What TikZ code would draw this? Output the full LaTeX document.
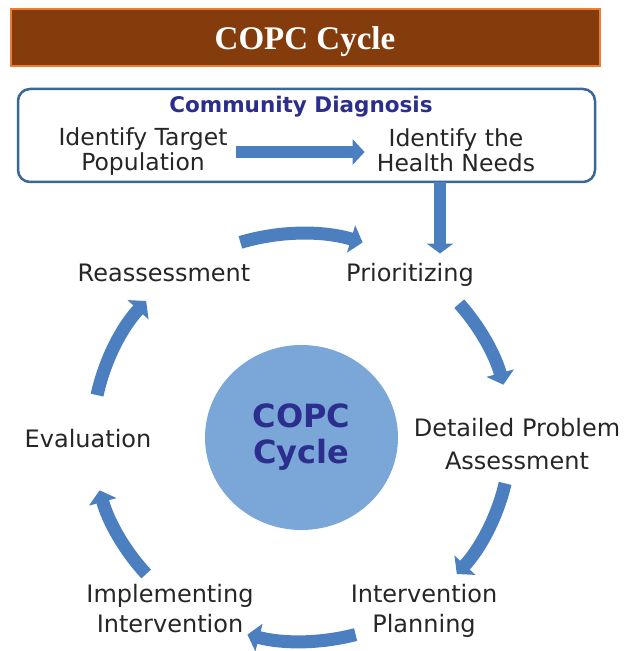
\documentclass[tikz,border=0pt]{standalone}
\usepackage{fontspec}
\setmainfont{DejaVu Sans}
\newfontfamily\headfont{Liberation Serif}
\usetikzlibrary{arrows.meta,shapes.geometric}

\definecolor{barbrown}{HTML}{843C0C}
\definecolor{barorange}{HTML}{ED7D31}
\definecolor{framebl}{HTML}{3A6796}
\definecolor{flowbl}{HTML}{4C7FBF}
\definecolor{hubbl}{HTML}{7BA7D8}
\definecolor{navy}{HTML}{2B2E8C}
\definecolor{ink}{HTML}{262626}

\begin{document}
\begin{tikzpicture}[x=1pt,y=1pt,
  % multi-line labels sit on the baseline of their last line
  lbl/.style={anchor=base, align=center, text=ink, inner sep=0pt,
              font=\fontsize{24}{30}\selectfont},
  flow/.style={draw=flowbl, line width=13pt,
               -{Triangle[width=28pt,length=12pt]}},
  straight/.style={draw=flowbl, line width=12pt,
                   -{Triangle[width=25pt,length=12pt]}}]

\useasboundingbox (0,0) rectangle (629,651);

% heading bar
\node[fill=barbrown, draw=barorange, line width=1.5pt, inner sep=0pt,
      minimum width=589pt, minimum height=57pt] (bar) at (305.5,613.5) {};
\node[anchor=base, text=white, inner sep=0pt,
      font=\headfont\bfseries\fontsize{33}{33}\selectfont] (title) at (305,601) {COPC Cycle};

% community diagnosis frame
\node[draw=framebl, line width=2.5pt, rounded corners=12pt, inner sep=0pt,
      minimum width=577pt, minimum height=93pt] (diag) at (306.5,515.5) {};
\node[anchor=base, text=navy, inner sep=0pt,
      font=\bfseries\fontsize{21.5}{21.5}\selectfont] (cdiag) at (301,538) {Community Diagnosis};
\node[lbl, font=\fontsize{23.5}{25}\selectfont] (target) at (143,480) {Identify Target\\Population};
\node[lbl, font=\fontsize{23.5}{25}\selectfont] (needs) at (456,479) {Identify the\\Health Needs};

% central disc
\node[ellipse, fill=hubbl, minimum width=193pt, minimum height=185pt, inner sep=0pt,
      align=center, text=navy, font=\bfseries\fontsize{32}{36}\selectfont]
      (hub) at (301.5,213.5) {COPC\\Cycle};

% stage labels
\node[lbl] (reass) at (164,369) {Reassessment};
\node[lbl] (prio) at (410,369) {Prioritizing};
\node[lbl, font=\fontsize{24}{33}\selectfont] (detail) at (517,181) {Detailed Problem\\Assessment};
\node[lbl, font=\fontsize{24}{29}\selectfont] (plan) at (424,19) {Intervention\\Planning};
\node[lbl, font=\fontsize{24}{30}\selectfont] (impl) at (170,18) {Implementing\\Intervention};
\node[lbl] (eval) at (88,203) {Evaluation};

% arrows inside the frame and down to the cycle
\draw[straight] ([xshift=8pt]target.east) -- ([xshift=-12pt]target.east -| needs.west);
\coordinate (drop) at (440,469);
\draw[straight, -{Triangle[width=26pt,length=10pt]}] (drop) -- ([yshift=10pt]drop |- prio.north);

% curved arrows of the cycle
\draw[flow] ([shift={(107:209 and 204)}]hub.center) arc[start angle=107, end angle=73, x radius=209, y radius=204];
\draw[flow] ([shift={(41:209 and 204)}]hub.center) arc[start angle=41, end angle=15, x radius=209, y radius=204];
\draw[flow] ([shift={(-13:209 and 204)}]hub.center) arc[start angle=-13, end angle=-42, x radius=209, y radius=204];
\draw[flow] ([shift={(-75:209 and 204)}]hub.center) arc[start angle=-75, end angle=-105, x radius=209, y radius=204];
\draw[flow] ([shift={(222:209 and 204)}]hub.center) arc[start angle=222, end angle=195, x radius=209, y radius=204];
\draw[flow] ([shift={(168:209 and 204)}]hub.center) arc[start angle=168, end angle=138, x radius=209, y radius=204];
\end{tikzpicture}
\end{document}
